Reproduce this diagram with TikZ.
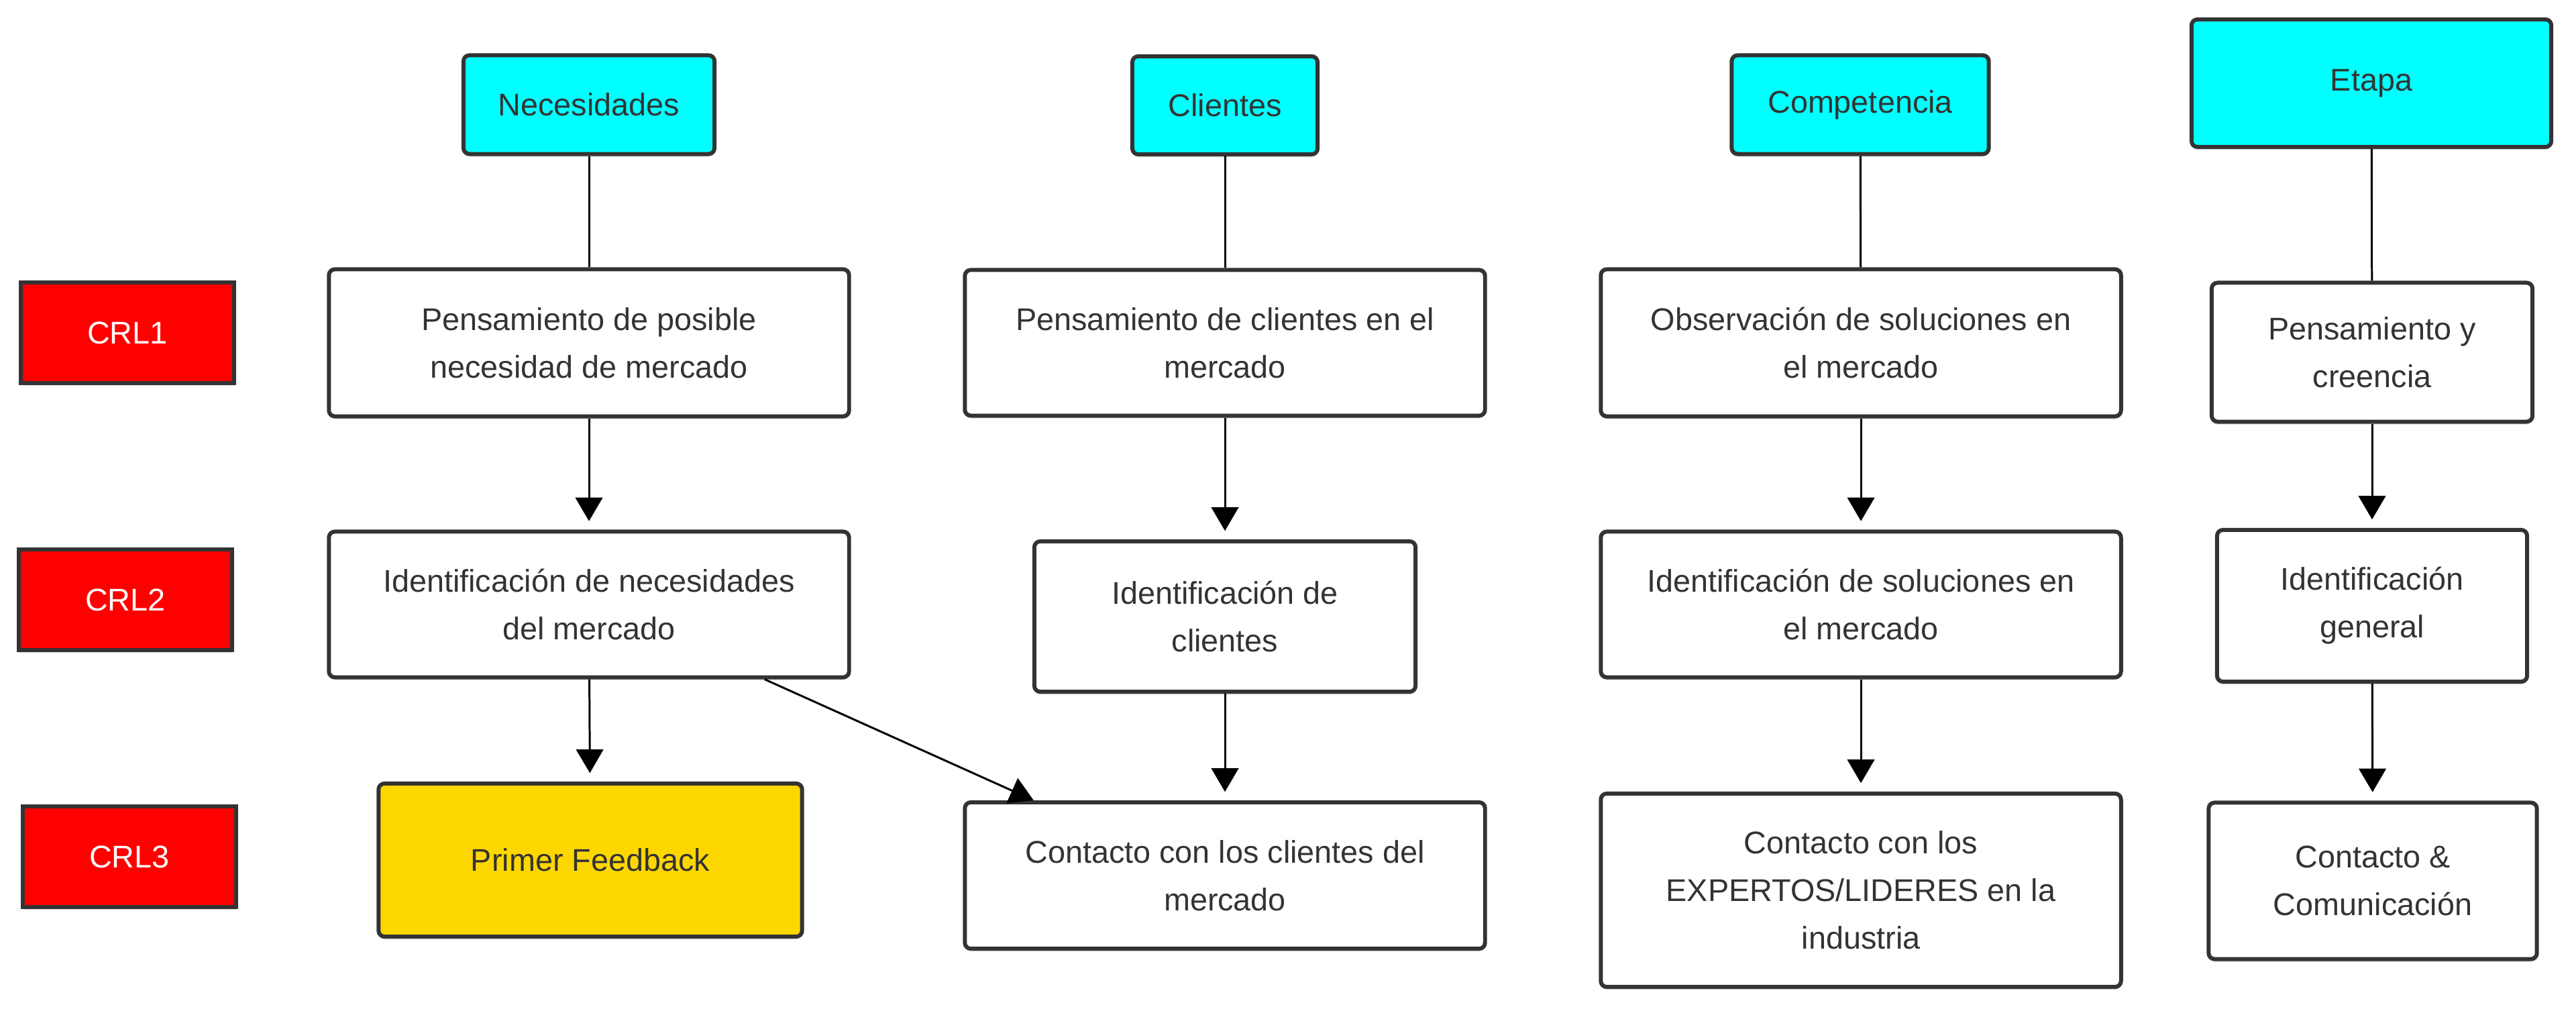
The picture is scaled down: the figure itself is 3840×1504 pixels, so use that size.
\documentclass[tikz,border=0pt]{standalone}
\usepackage{fontspec}
\setmainfont{Liberation Sans}
\usetikzlibrary{arrows.meta,shadows,calc}
\definecolor{bd}{HTML}{333333}
\definecolor{txt}{HTML}{333333}
\definecolor{hdr}{HTML}{00FFFF}
\definecolor{crl}{HTML}{FF0000}
\definecolor{gold}{HTML}{FFD700}
\tikzset{
  base/.style={draw=bd, line width=1.7pt, align=center, inner sep=0pt, text=txt,
    font=\fontsize{13.3pt}{20.2pt}\selectfont,
    drop shadow={shadow xshift=0pt, shadow yshift=-1.2pt, opacity=0.12, fill=black}},
  box/.style={base, rounded corners=2.5pt, fill=white},
  hdrbox/.style={box, fill=hdr},
  fbbox/.style={box, fill=gold},
  crlbox/.style={base, fill=crl, text=white},
  conn/.style={line width=0.85pt, black},
  arr/.style={conn, -{Triangle[length=10pt,width=11.5pt]}, shorten >=3.6pt},
}
\begin{document}
\begin{tikzpicture}[x=0.01cm,y=-0.01cm]
\useasboundingbox (0,0) rectangle (3840,1504);
% CRL labels
\node[crlbox, minimum width=3.17cm, minimum height=1.50cm] (crl1) at (190,496) {CRL1};
\node[crlbox, minimum width=3.17cm, minimum height=1.49cm] (crl2) at (187,894) {CRL2};
\node[crlbox, minimum width=3.17cm, minimum height=1.49cm] (crl3) at (193,1277) {CRL3};
% headers
\node[hdrbox, minimum width=3.74cm, minimum height=1.47cm] (hnec) at (878,156) {Necesidades};
\node[hdrbox, minimum width=2.76cm, minimum height=1.46cm] (hcli) at (1826,157) {Clientes};
\node[hdrbox, minimum width=3.83cm, minimum height=1.47cm] (hcom) at (2773,156) {Competencia};
\node[hdrbox, minimum width=5.36cm, minimum height=1.90cm] (heta) at (3535,124) {Etapa};
% column 1
\node[box, minimum width=7.75cm, minimum height=2.19cm] (n1) at (878,511) {Pensamiento de posible\\necesidad de mercado};
\node[box, minimum width=7.75cm, minimum height=2.17cm] (n2) at (878,901) {Identificación de necesidades\\del mercado};
\node[fbbox, minimum width=6.31cm, minimum height=2.28cm] (n3) at (880,1282) {Primer Feedback};
% column 2
\node[box, minimum width=7.75cm, minimum height=2.17cm] (c1) at (1826,511) {Pensamiento de clientes en el\\mercado};
\node[box, minimum width=5.68cm, minimum height=2.24cm] (c2) at (1826,919) {Identificación de\\clientes};
\node[box, minimum width=7.75cm, minimum height=2.18cm] (c3) at (1826,1305) {Contacto con los clientes del\\mercado};
% column 3
\node[box, minimum width=7.75cm, minimum height=2.19cm] (s1) at (2774,511) {Observación de soluciones en\\el mercado};
\node[box, minimum width=7.75cm, minimum height=2.17cm] (s2) at (2774,901) {Identificación de soluciones en\\el mercado};
\node[box, minimum width=7.75cm, minimum height=2.88cm] (s3) at (2774,1327) {Contacto con los\\EXPERTOS/LIDERES en la\\industria};
% column 4
\node[box, minimum width=4.78cm, minimum height=2.07cm] (e1) at (3536,525) {Pensamiento y\\creencia};
\node[box, minimum width=4.62cm, minimum height=2.26cm] (e2) at (3536,903) {Identificación\\general};
\node[box, minimum width=4.89cm, minimum height=2.33cm] (e3) at (3537,1313) {Contacto \&\\Comunicación};
% connectors
\draw[conn] (hnec) -- (n1);
\draw[arr] (n1) -- (n2);
\draw[arr] (n2) -- (n3);
\coordinate (dstart) at ($(n2.south west)!0.835!(n2.south east)$);
\coordinate (dend) at ($(c3.north west)!0.135!(c3.north east)$);
\draw[arr, shorten >=0pt] (dstart) -- (dend);
\draw[conn] (hcli) -- (c1);
\draw[arr] (c1) -- (c2);
\draw[arr] (c2) -- (c3);
\draw[conn] (hcom) -- (s1);
\draw[arr] (s1) -- (s2);
\draw[arr] (s2) -- (s3);
\draw[conn] (heta) -- (e1);
\draw[arr] (e1) -- (e2);
\draw[arr] (e2) -- (e3);
\end{tikzpicture}
\end{document}
